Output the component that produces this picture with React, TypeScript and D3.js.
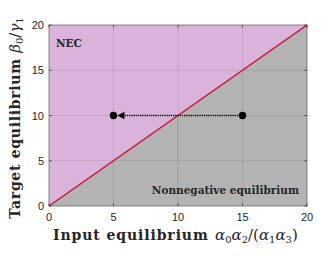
import * as d3 from 'd3';

// regions split by the line target = input
const xDomain = [0, 20];
const yDomain = [0, 20];
const ticks = [0, 5, 10, 15, 20];
const diagonal = [[0, 0], [20, 20]];
const startPoint = [15, 10];
const endPoint = [5, 10];
const arrowTip = 5.3;
const arrowBase = 5.85;

const W = 332;
const H = 256;
const m = { left: 49, right: 25, top: 25, bottom: 50 };

const App = () => {
  const x = d3.scaleLinear().domain(xDomain).range([m.left, W - m.right]);
  const y = d3.scaleLinear().domain(yDomain).range([H - m.bottom, m.top]);

  const line = d3.line().x(d => x(d[0])).y(d => y(d[1]));

  // upper-left triangle (NEC) and lower-right triangle (nonnegative)
  const nec = [[0, 0], [0, 20], [20, 20]];
  const nonneg = [[0, 0], [20, 0], [20, 20]];

  const tickColor = '#262626';
  const gridColor = 'rgba(38,38,38,0.15)';

  return (
    <svg width={W} height={H} style={{ position: 'absolute', left: 0, top: 0 }}>
      <rect width={W} height={H} fill="#fff" />
      <path d={line(nec) + 'Z'} fill="#d9b3d9" />
      <path d={line(nonneg) + 'Z'} fill="#b3b3b3" />

      {/* grid */}
      {ticks.map(t => (
        <g key={'g' + t}>
          <line x1={x(t)} x2={x(t)} y1={y(0)} y2={y(20)} stroke={gridColor} strokeWidth={0.7} />
          <line x1={x(0)} x2={x(20)} y1={y(t)} y2={y(t)} stroke={gridColor} strokeWidth={0.7} />
        </g>
      ))}

      {/* box */}
      <rect x={x(0)} y={y(20)} width={x(20) - x(0)} height={y(0) - y(20)}
        fill="none" stroke="#7a7a7a" strokeWidth={0.8} />

      {/* ticks */}
      {ticks.map(t => (
        <g key={'t' + t} stroke={tickColor} strokeWidth={0.7}>
          <line x1={x(t)} x2={x(t)} y1={y(0)} y2={y(0) - 2.6} />
          <line x1={x(t)} x2={x(t)} y1={y(20)} y2={y(20) + 2.6} />
          <line x1={x(0)} x2={x(0) + 2.6} y1={y(t)} y2={y(t)} />
          <line x1={x(20)} x2={x(20) - 2.6} y1={y(t)} y2={y(t)} />
        </g>
      ))}

      <path d={line(diagonal)} stroke="#c8102e" strokeWidth={1.5} fill="none" />

      {/* arrow */}
      <line x1={x(startPoint[0])} x2={x(arrowBase)} y1={y(startPoint[1])} y2={y(startPoint[1])}
        stroke="#000" strokeWidth={1.6} strokeDasharray="1.2 1" />
      <path d={`M${x(arrowTip)},${y(endPoint[1])}L${x(arrowBase)},${y(endPoint[1]) - 3.8}L${x(arrowBase)},${y(endPoint[1]) + 3.8}Z`} fill="#000" />
      <circle cx={x(startPoint[0])} cy={y(startPoint[1])} r={3.7} fill="#000" />
      <circle cx={x(endPoint[0])} cy={y(endPoint[1])} r={3.7} fill="#000" />

      {/* region labels */}
      <text x={56} y={47} fontFamily="DejaVu Serif" fontWeight="bold" fontSize={10.5} fill="#262626">NEC</text>
      <text x={299} y={194} textAnchor="end" fontFamily="DejaVu Serif" fontWeight="bold" fontSize={10.5} fill="#262626">Nonnegative equilibrium</text>

      {/* tick labels */}
      {ticks.map(t => (
        <text key={'xl' + t} x={x(t)} y={y(0) + 15} textAnchor="middle"
          fontFamily="Liberation Sans" fontSize={11} fill={tickColor}>{t}</text>
      ))}
      {ticks.map(t => (
        <text key={'yl' + t} x={x(0) - 5} y={y(t) + 4} textAnchor="end"
          fontFamily="Liberation Sans" fontSize={11} fill={tickColor}>{t}</text>
      ))}

      {/* axis labels */}
      <text x={53} y={240} fontFamily="DejaVu Serif" fontSize={14} fill="#262626">
        <tspan fontWeight="bold" letterSpacing={0.9}>Input equilibrium</tspan>
        <tspan x={215} fontStyle="italic" fontSize={15}>α</tspan><tspan fontSize={10} dy={2.5}>0</tspan>
        <tspan fontStyle="italic" fontSize={15} dy={-2.5}>α</tspan><tspan fontSize={10} dy={2.5}>2</tspan>
        <tspan fontSize={15} dy={-2.5}>/(</tspan><tspan fontStyle="italic" fontSize={15}>α</tspan><tspan fontSize={10} dy={2.5}>1</tspan>
        <tspan fontStyle="italic" fontSize={15} dy={-2.5}>α</tspan><tspan fontSize={10} dy={2.5}>3</tspan>
        <tspan fontSize={15} dy={-2.5}>)</tspan>
      </text>
      <text transform={`translate(20,${118}) rotate(-90)`} textAnchor="middle" fontFamily="DejaVu Serif" fontSize={14} fill="#262626">
        <tspan fontWeight="bold" letterSpacing={0.7}>Target equilibrium </tspan>
        <tspan fontStyle="italic" fontSize={15}>β</tspan><tspan fontSize={10} dy={2.5}>0</tspan>
        <tspan fontSize={15} dy={-2.5}>/</tspan><tspan fontStyle="italic" fontSize={15}>γ</tspan><tspan fontSize={10} dy={2.5}>1</tspan>
      </text>
    </svg>
  );
};

export default App;
